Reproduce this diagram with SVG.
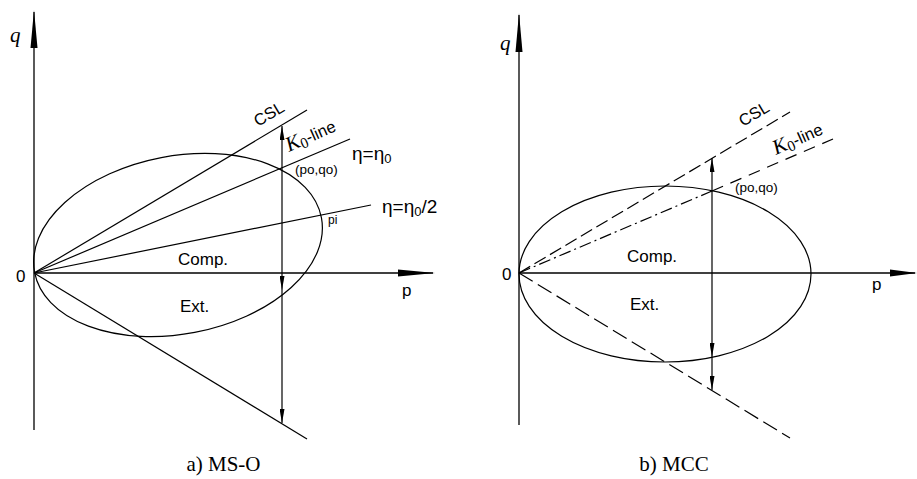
<svg xmlns="http://www.w3.org/2000/svg" width="917" height="479" viewBox="0 0 917 479">
<style>
.ln{stroke:#000;stroke-width:1.2;fill:none}
.ax{stroke:#000;stroke-width:1.3;fill:none}
.ah{fill:#000;stroke:none}
.sans{font-family:"Liberation Sans",Arial,sans-serif;fill:#000}
.serif{font-family:"Liberation Serif","Times New Roman",serif;fill:#000}
.lbl{font-size:17px}
.pq{font-size:13.5px}
.eta{font-size:19px}
.cap{font-size:21px}
.dash{stroke-dasharray:13,5}
.dashdot{stroke-dasharray:12,4,2,4}
.dash2{stroke-dasharray:12,8}
.dash3{stroke-dasharray:16,6}
</style>
<defs>
<marker id="arr" viewBox="0 0 14 5" refX="14" refY="2.5" markerWidth="14" markerHeight="5" markerUnits="userSpaceOnUse" orient="auto">
<path d="M0,0 L14,2.5 L0,5 Z" fill="#000"/>
</marker>
</defs>

<g id="panel-a">
  <g id="a-axes">
    <line class="ax" x1="34" y1="430" x2="34" y2="12"/>
    <polygon class="ah" points="34,10 30.5,48 37.5,48"/>
    <line class="ax" x1="34" y1="273" x2="433" y2="273"/>
    <polygon class="ah" points="435,273 398,269.5 398,276.5"/>
  </g>
  <g id="a-ellipse">
    <ellipse class="ln" cx="178" cy="245" rx="146" ry="89" transform="rotate(-10.8 178 245)"/>
  </g>
  <g id="a-connectors">
    <line class="ln" x1="34" y1="273" x2="307" y2="110"/>
    <line class="ln" x1="34" y1="273" x2="350" y2="139"/>
    <line class="ln" x1="34" y1="273" x2="371" y2="205"/>
    <line class="ln" x1="34" y1="273" x2="307" y2="439"/>
    <line class="ln" x1="282" y1="169" x2="282" y2="126" marker-end="url(#arr)"/>
    <line class="ln" x1="282" y1="169" x2="282" y2="290" marker-end="url(#arr)"/>
    <line class="ln" x1="282" y1="290" x2="282" y2="423" marker-end="url(#arr)"/>
  </g>
  <g id="a-labels">
    <text class="serif" x="10" y="42" font-size="21" font-style="italic">q</text>
    <text class="sans lbl" x="16" y="282">0</text>
    <text class="sans lbl" x="402" y="296">p</text>
    <text class="sans lbl" x="178" y="265">Comp.</text>
    <text class="sans lbl" x="180" y="312">Ext.</text>
    <text class="sans" font-size="16.5" transform="translate(258,127) rotate(-31)">CSL</text>
    <text transform="translate(289,152) rotate(-24)"><tspan class="serif" font-size="21" font-style="italic">K</tspan><tspan class="serif" font-size="15" dy="3">0</tspan><tspan class="sans" font-size="16.5" dy="-3">-line</tspan></text>
    <text class="sans eta" x="352" y="160">η=η<tspan font-size="13" dy="3">0</tspan></text>
    <text class="sans pq" x="295" y="174">(po,qo)</text>
    <text class="sans eta" x="382" y="213">η=η<tspan font-size="13" dy="3">0</tspan><tspan dy="-3">/2</tspan></text>
    <text class="sans" font-size="12" x="328" y="224">pi</text>
    <text class="serif cap" x="223.5" y="471" text-anchor="middle">a) MS-O</text>
  </g>
</g>

<g id="panel-b">
  <g id="b-axes">
    <line class="ax" x1="519" y1="425" x2="519" y2="15"/>
    <polygon class="ah" points="519,13 515.5,52 522.5,52"/>
    <line class="ax" x1="519" y1="273" x2="915" y2="273"/>
    <polygon class="ah" points="917,273 890,269.5 890,276.5"/>
  </g>
  <g id="b-ellipse">
    <ellipse class="ln" cx="665" cy="274" rx="146" ry="88"/>
  </g>
  <g id="b-connectors">
    <line class="ln dash" x1="519" y1="273" x2="790" y2="112"/>
    <line class="ln dashdot" x1="519" y1="273" x2="712" y2="191"/>
    <line class="ln dash2" x1="712" y1="191" x2="833" y2="139"/>
    <line class="ln dash3" x1="519" y1="273" x2="790" y2="438"/>
    <line class="ln" x1="712" y1="191" x2="712" y2="158" marker-end="url(#arr)"/>
    <line class="ln" x1="712" y1="191" x2="712" y2="357" marker-end="url(#arr)"/>
    <line class="ln" x1="712" y1="357" x2="712" y2="390" marker-end="url(#arr)"/>
  </g>
  <g id="b-labels">
    <text class="serif" x="500" y="50" font-size="21" font-style="italic">q</text>
    <text class="sans lbl" x="502" y="280">0</text>
    <text class="sans lbl" x="872" y="290">p</text>
    <text class="sans lbl" x="627" y="262">Comp.</text>
    <text class="sans lbl" x="630" y="310">Ext.</text>
    <text class="sans" font-size="16.5" transform="translate(743,127) rotate(-31)">CSL</text>
    <text transform="translate(776,155) rotate(-24)"><tspan class="serif" font-size="21" font-style="italic">K</tspan><tspan class="serif" font-size="15" dy="3">0</tspan><tspan class="sans" font-size="16.5" dy="-3">-line</tspan></text>
    <text class="sans pq" x="735" y="192">(po,qo)</text>
    <text class="serif cap" x="674" y="471" text-anchor="middle">b) MCC</text>
  </g>
</g>
</svg>
